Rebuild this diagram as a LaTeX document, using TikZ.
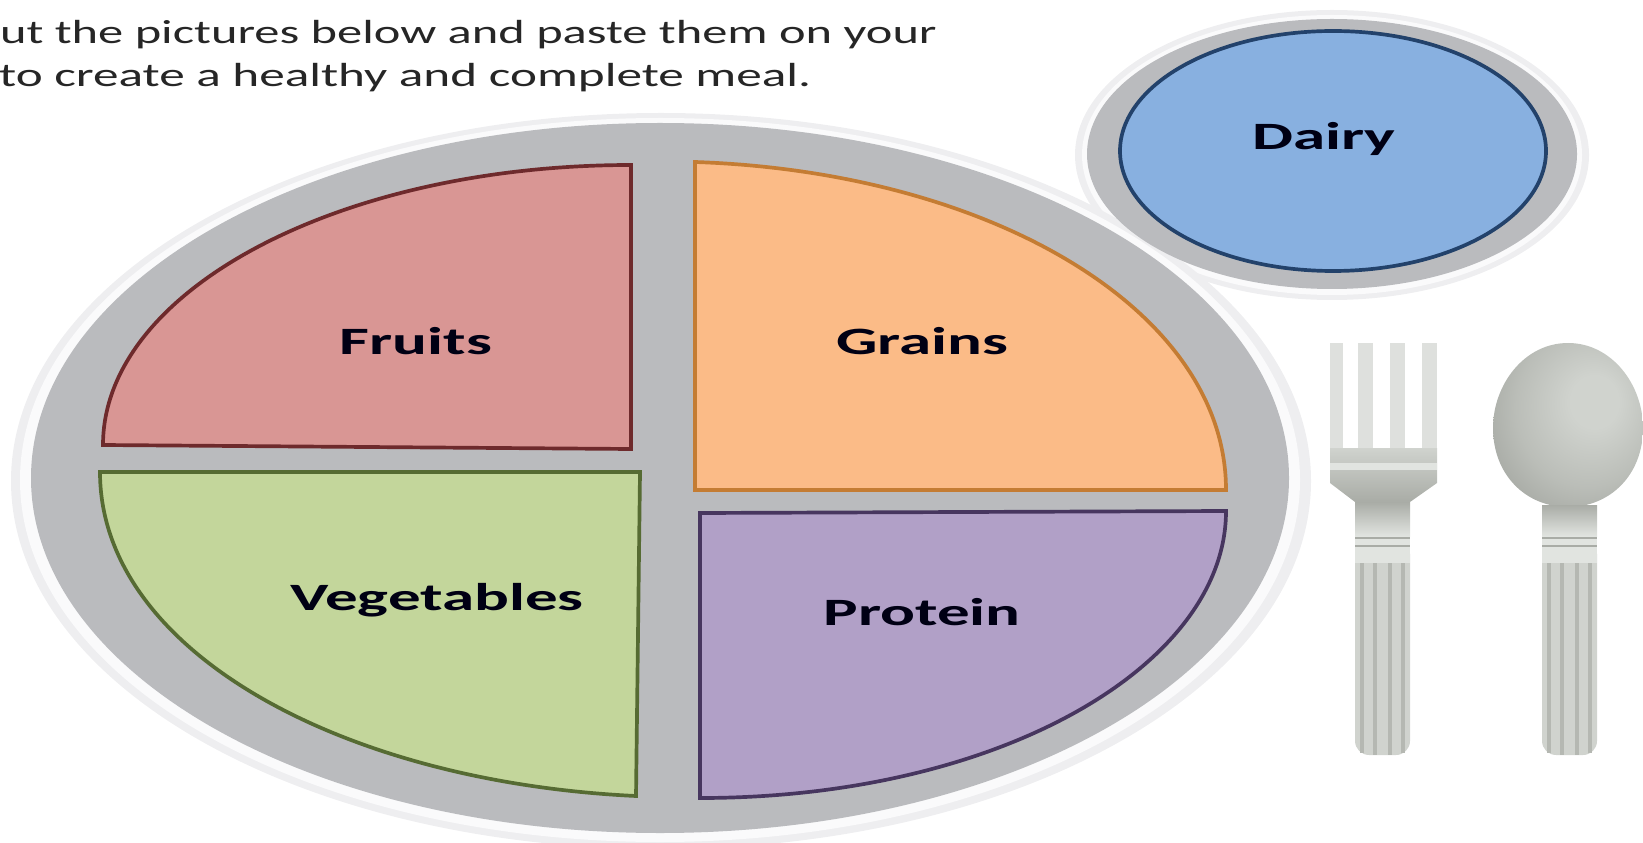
\documentclass[tikz,border=0pt]{standalone}
\usepackage{fontspec}
\setmainfont{Carlito}
\definecolor{plategray}{HTML}{BABBBE}
\definecolor{platehalo}{HTML}{EEEEF0}
\definecolor{platerim}{HTML}{FAFAFB}
\definecolor{fruitfill}{HTML}{D99694}
\definecolor{fruitline}{HTML}{6E2A2C}
\definecolor{grainfill}{HTML}{FBBB87}
\definecolor{grainline}{HTML}{C47C33}
\definecolor{vegfill}{HTML}{C3D69B}
\definecolor{vegline}{HTML}{566B33}
\definecolor{protfill}{HTML}{B1A0C7}
\definecolor{protline}{HTML}{47365F}
\definecolor{dairyfill}{HTML}{88B0E0}
\definecolor{dairyline}{HTML}{23426B}
\definecolor{cutlery}{HTML}{D0D3CE}
\definecolor{cutlerydark}{HTML}{A9ACA6}
\definecolor{cutlerylight}{HTML}{E1E4E0}
\pgfdeclareradialshading{bowlshade}{\pgfpoint{10bp}{8bp}}{color(0bp)=(cutlery); color(8bp)=(cutlery); color(24bp)=(cutlerydark!55!cutlery); color(38bp)=(cutlerydark!95!black); color(70bp)=(cutlerydark!95!black)}
\begin{document}
\begin{tikzpicture}[
  x=0.01cm, y=-0.01cm,
  section/.style={line width=1.05pt, line join=miter},
  lab/.style={font=\bfseries\fontsize{11}{13}\selectfont, text=black!92!blue, xscale=1.68, transform shape, inner sep=0pt},
  note/.style={font=\fontsize{9.5}{11}\selectfont, text=black!85, anchor=west, xscale=1.51, transform shape, inner sep=0pt},
  stripe/.style={line width=1.2pt, cutlerydark!70!cutlery},
]
  \useasboundingbox (0, 0) rectangle (1643, 843);
  \clip (0, 0) rectangle (1643, 843);

  % Instruction text
  \node[note] (line1) at (-1, 35) {ut the pictures below and paste them on your};
  \node[note, xscale=1.015] (line2) at (-2, 78) {to create a healthy and complete meal.};

  % Rims behind the plate and the cup
  \fill[platehalo] (1332, 155) ellipse [x radius=257, y radius=145];
  \fill[platerim] (1332, 155) ellipse [x radius=250, y radius=140];
  \fill[platehalo] (661, 481) ellipse [x radius=650, y radius=368];
  \fill[platerim] (660, 480) ellipse [x radius=640, y radius=362];

  % Plate
  \fill[plategray] (660, 478) ellipse [x radius=629, y radius=355];

  % Plate sections
  \draw[section, fill=fruitfill, draw=fruitline] (103, 445) .. controls (103, 290) and (340, 165) .. (631, 165) -- (631, 449) -- cycle;
  \draw[section, fill=grainfill, draw=grainline] (695, 162) .. controls (990, 172) and (1226, 310) .. (1226, 490) -- (695, 490) -- cycle;
  \draw[section, fill=vegfill, draw=vegline] (100, 472) -- (640, 472) -- (636, 796) .. controls (340, 782) and (100, 650) .. (100, 472) -- cycle;
  \draw[section, fill=protfill, draw=protline] (700, 513) -- (1226, 511) .. controls (1226, 665) and (1000, 798) .. (700, 798) -- cycle;

  % Dairy cup
  \fill[plategray] (1332, 154) ellipse [x radius=245, y radius=135];
  \draw[section, fill=dairyfill, draw=dairyline] (1333, 151) ellipse [x radius=213, y radius=120];

  % Section labels
  \node[lab] (fruits) at (416, 341) {Fruits};
  \node[lab] (grains) at (922, 341) {Grains};
  \node[lab] (vegetables) at (437, 600) {Vegetables};
  \node[lab] (protein) at (922, 612) {Protein};
  \node[lab] (dairy) at (1324, 139) {Dairy};

  % Fork
  \fill[cutlery!70!white] (1330, 343) rectangle (1343, 448);
  \fill[cutlery!70!white] (1358, 343) rectangle (1373, 448);
  \fill[cutlery!70!white] (1390, 343) rectangle (1405, 448);
  \fill[cutlery!70!white] (1422, 343) rectangle (1437, 448);
  \shade[top color=cutlery, bottom color=cutlerydark] (1330, 448) -- (1437, 448) -- (1437, 483) -- (1410, 502) -- (1355, 502) -- (1330, 483) -- cycle;
  \fill[cutlerylight] (1330, 463) rectangle (1437, 470);
  \fill[cutlery, rounded corners=4pt] (1355, 540) -- (1410, 540) -- (1410, 755) -- (1355, 755) -- cycle;
  \draw[stripe] (1362, 563) -- (1362, 753);
  \draw[stripe] (1375, 563) -- (1375, 755);
  \draw[stripe] (1390, 563) -- (1390, 755);
  \draw[stripe] (1403, 563) -- (1403, 753);
  \shade[top color=cutlerydark, bottom color=cutlerylight] (1355, 502) rectangle (1410, 536);
  \fill[cutlerylight] (1355, 536) rectangle (1410, 563);
  \fill[cutlerydark] (1355, 537) rectangle (1410, 539);
  \fill[cutlerydark] (1355, 545) rectangle (1410, 547);

  % Spoon
  \shade[shading=bowlshade] (1568, 343) .. controls (1612, 343) and (1643, 385) .. (1643, 428) .. controls (1643, 475) and (1610, 507) .. (1568, 507) .. controls (1526, 507) and (1493, 475) .. (1493, 428) .. controls (1493, 385) and (1524, 343) .. (1568, 343) -- cycle;
  \fill[cutlery, rounded corners=4pt] (1542, 540) -- (1597, 540) -- (1597, 755) -- (1542, 755) -- cycle;
  \draw[stripe] (1549, 563) -- (1549, 753);
  \draw[stripe] (1562, 563) -- (1562, 755);
  \draw[stripe] (1577, 563) -- (1577, 755);
  \draw[stripe] (1590, 563) -- (1590, 753);
  \shade[top color=cutlerydark, bottom color=cutlerylight] (1542, 505) rectangle (1597, 536);
  \fill[cutlerylight] (1542, 536) rectangle (1597, 563);
  \fill[cutlerydark] (1542, 537) rectangle (1597, 539);
  \fill[cutlerydark] (1542, 545) rectangle (1597, 547);
\end{tikzpicture}
\end{document}
